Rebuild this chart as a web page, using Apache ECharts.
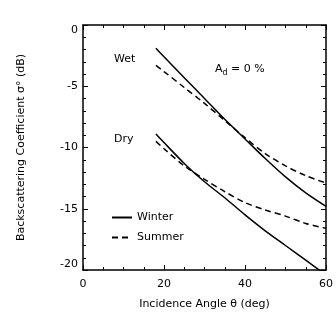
<!DOCTYPE html>
<html>
<head>
<meta charset="utf-8">
<script src="https://cdn.jsdelivr.net/npm/echarts@6/dist/echarts.min.js"></script>
<style>
  html, body { margin: 0; padding: 0; background: #fff; }
  #chart { width: 336px; height: 320px; }
</style>
</head>
<body>
<div id="chart"></div>
<script>
  // incidence angle (deg)
  const angles = [18, 20, 25, 30, 35, 40, 45, 50, 55, 60];
  // backscattering coefficient (dB)
  const wetWinter = [-1.9, -2.6, -4.3, -6.0, -7.7, -9.3, -10.9, -12.4, -13.7, -14.8];
  const wetSummer = [-3.3, -3.8, -5.1, -6.4, -7.8, -9.2, -10.5, -11.5, -12.3, -12.9];
  const dryWinter = [-8.9, -9.6, -11.3, -12.8, -14.1, -15.5, -16.8, -18.0, -19.2, -20.4];
  const drySummer = [-9.5, -10.1, -11.5, -12.6, -13.6, -14.5, -15.1, -15.6, -16.2, -16.6];
  const xTicks = [0, 20, 40, 60];
  const yTicks = [0, -5, -10, -15, -20];

  const font = 'DejaVu Sans';
  const pairs = (ys) => angles.map((a, i) => [a, ys[i]]);

  function lineSeries(name, ys, dashed) {
    return {
      name: name,
      type: 'line',
      data: pairs(ys),
      symbol: 'none',
      smooth: 0.3,
      clip: true,
      lineStyle: { color: '#000', width: 1.5, type: dashed ? [6, 4] : 'solid' },
      itemStyle: { color: '#000' }
    };
  }

  const tickStyle = { lineStyle: { color: '#000', width: 1 } };
  const frameLine = { show: true, onZero: false, lineStyle: { color: '#000', width: 1.5 } };

  let myChart = echarts.init(document.getElementById('chart'));
  let option = {
    animation: false,
    grid: { left: 83, right: 10, top: 25, bottom: 50 },
    xAxis: [{
      type: 'value', min: 0, max: 60, interval: 20,
      name: 'Incidence Angle θ (deg)', nameLocation: 'middle', nameGap: 29,
      nameTextStyle: { fontFamily: font, fontSize: 11, color: '#000' },
      axisLine: frameLine,
      axisTick: { inside: true, length: 5, ...tickStyle },
      minorTick: { show: true, splitNumber: 4, length: 3, ...tickStyle },
      splitLine: { show: false },
      axisLabel: {
        fontFamily: font, fontSize: 11, color: '#000', margin: 9,
        formatter: v => xTicks.includes(v) ? String(v) : ''
      }
    }, {
      type: 'value', min: 0, max: 60, interval: 20, position: 'top',
      axisLine: frameLine,
      axisTick: { inside: true, length: 5, ...tickStyle },
      minorTick: { show: true, splitNumber: 4, length: 3, ...tickStyle },
      splitLine: { show: false },
      axisLabel: { show: false }
    }],
    yAxis: [{
      type: 'value', min: -20, max: 0, interval: 5,
      name: 'Backscattering Coefficient σ° (dB)', nameLocation: 'middle', nameGap: 56,
      nameTextStyle: { fontFamily: font, fontSize: 11, color: '#000' },
      axisLine: frameLine,
      axisTick: { inside: true, length: 5, ...tickStyle },
      minorTick: { show: true, splitNumber: 5, length: 3, ...tickStyle },
      splitLine: { show: false },
      axisLabel: {
        fontFamily: font, fontSize: 11, color: '#000', margin: 5,
        verticalAlignMinLabel: 'bottom', verticalAlignMaxLabel: 'top',
        formatter: v => yTicks.includes(v) ? String(v) : ''
      }
    }, {
      type: 'value', min: -20, max: 0, interval: 5, position: 'right',
      axisLine: frameLine,
      axisTick: { inside: true, length: 5, ...tickStyle },
      minorTick: { show: true, splitNumber: 5, length: 3, ...tickStyle },
      splitLine: { show: false },
      axisLabel: { show: false }
    }],
    legend: {
      data: ['Winter', 'Summer'],
      orient: 'vertical',
      left: 106, top: 207,
      itemWidth: 20, itemHeight: 8, itemGap: 9,
      itemStyle: { opacity: 0 },
      textStyle: { fontFamily: font, fontSize: 11, color: '#000' }
    },
    graphic: [
      { type: 'text', left: 114, top: 54, style: { text: 'Wet', font: '11px ' + font, fill: '#000' } },
      { type: 'text', left: 114, top: 134, style: { text: 'Dry', font: '11px ' + font, fill: '#000' } },
      {
        type: 'text', left: 215, top: 64,
        style: {
          text: 'A{s|d} = 0 %', font: '11px ' + font, fill: '#000',
          rich: { s: { fontSize: 8, fontFamily: font, padding: [6, 0, 0, 0] } }
        }
      }
    ],
    series: [
      lineSeries('Winter', wetWinter, false),
      lineSeries('Summer', wetSummer, true),
      lineSeries('Winter', dryWinter, false),
      lineSeries('Summer', drySummer, true)
    ]
  };
  myChart.setOption(option);
</script>
</body>
</html>
